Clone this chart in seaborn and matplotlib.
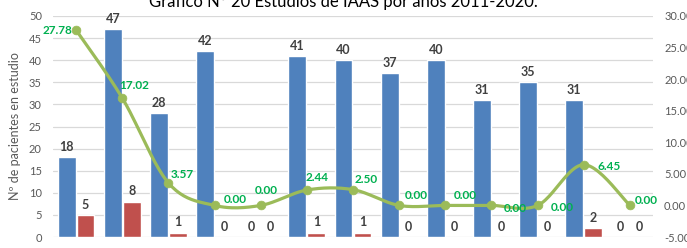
import numpy as np
import pandas as pd
import matplotlib
matplotlib.use("Agg")
import matplotlib.pyplot as plt
import seaborn as sns

# datos (13 grupos, etiquetas del eje x no visibles)
grupos = [str(i) for i in range(1, 14)]
estudios = [18, 47, 28, 42, 0, 41, 40, 37, 40, 31, 35, 31, 0]
iaas = [5, 8, 1, 0, 0, 1, 1, 0, 0, 0, 0, 2, 0]
tasa = [27.78, 17.02, 3.57, 0.00, 0.00, 2.44, 2.50, 0.00, 0.00, 0.00, 0.00, 6.45, 0.00]
series = ["Pacientes en estudio", "IAAS"]

# desplazamiento (pixeles) de las etiquetas verdes
offs = [(-4, 0), (12, 12), (14, 8), (21, 6), (6, 15), (10, 13), (13, 10),
        (17, 10), (20, 10), (24, -3), (25, -2), (25, -2), (16, 5)]

df = pd.DataFrame({
    "grupo": grupos * 2,
    "serie": [series[0]] * len(grupos) + [series[1]] * len(grupos),
    "valor": estudios + iaas,
})

sns.set_style("white")
plt.rcParams["font.family"] = ["Lato", "DejaVu Sans"]

fig = plt.figure(figsize=(6.87, 2.48), dpi=100)
ax = fig.add_axes([53 / 687, 11 / 248, 600 / 687, 221 / 248])

sns.barplot(data=df, x="grupo", y="valor", hue="serie", ax=ax,
            palette=["#4F81BD", "#C0504D"], width=0.82, gap=0.06,
            legend=False, saturation=1)
for c in ax.containers:
    ax.bar_label(c, padding=3, fontsize=9, fontweight="bold", color="#404040")

ax.set_ylim(0, 50)
ax.set_yticks(np.arange(0, 51, 5))
ax.set_xlim(-0.5, 12.5)
ax.yaxis.grid(True, color="#D9D9D9", lw=0.9)
ax.set_axisbelow(True)
ax.tick_params(axis="y", length=0, labelsize=8, labelcolor="#595959", pad=8)
ax.tick_params(axis="x", length=0, labelbottom=False)
ax.set_xlabel("")
ax.set_ylabel("Nº de pacientes en estudio", fontsize=9, color="#595959", labelpad=6)
for s in ax.spines.values():
    s.set_visible(False)

ax2 = ax.twinx()
x = np.arange(len(tasa))
y = np.array(tasa)
# curva suavizada (Catmull-Rom) solo para el trazo
pts = np.column_stack([x, y])
ext = np.vstack([pts[0], pts, pts[-1]])
curva = []
for i in range(len(pts) - 1):
    p0, p1, p2, p3 = ext[i], ext[i + 1], ext[i + 2], ext[i + 3]
    t = np.linspace(0, 1, 25)[:, None]
    seg = 0.5 * ((2 * p1) + (-p0 + p2) * t + (2 * p0 - 5 * p1 + 4 * p2 - p3) * t ** 2
                 + (-p0 + 3 * p1 - 3 * p2 + p3) * t ** 3)
    curva.append(seg)
curva = np.vstack(curva)
ax2.plot(curva[:, 0], curva[:, 1], color="#9BBB59", lw=2.3, solid_capstyle="round")
sns.scatterplot(x=x, y=y, ax=ax2, color="#9BBB59", s=40, edgecolor="#9BBB59", zorder=5)

for xi, yi, (dx, dy) in zip(x, tasa, offs):
    ha = "right" if dx < 0 else "center"
    ax2.annotate(f"{yi:.2f}", (xi, yi), xytext=(dx, dy), textcoords="offset pixels",
                 ha=ha, va="center", fontsize=8.5, fontweight="bold", color="#00B050")

ax2.set_ylim(-5, 30)
ax2.set_yticks(np.arange(-5, 31, 5))
ax2.set_yticklabels([f"{v:.2f}" for v in np.arange(-5, 31, 5)])
ax2.tick_params(axis="y", length=0, labelsize=8, labelcolor="#595959", pad=8)
ax2.set_xlim(-0.5, 12.5)
for s in ax2.spines.values():
    s.set_visible(False)

fig.text(0.5, 1 - 7 / 248, "Gráfico N° 20 Estudios de IAAS por años 2011-2020.",
         ha="center", va="baseline", fontsize=12, color="#000000")

fig.savefig("out.png", dpi=100)
